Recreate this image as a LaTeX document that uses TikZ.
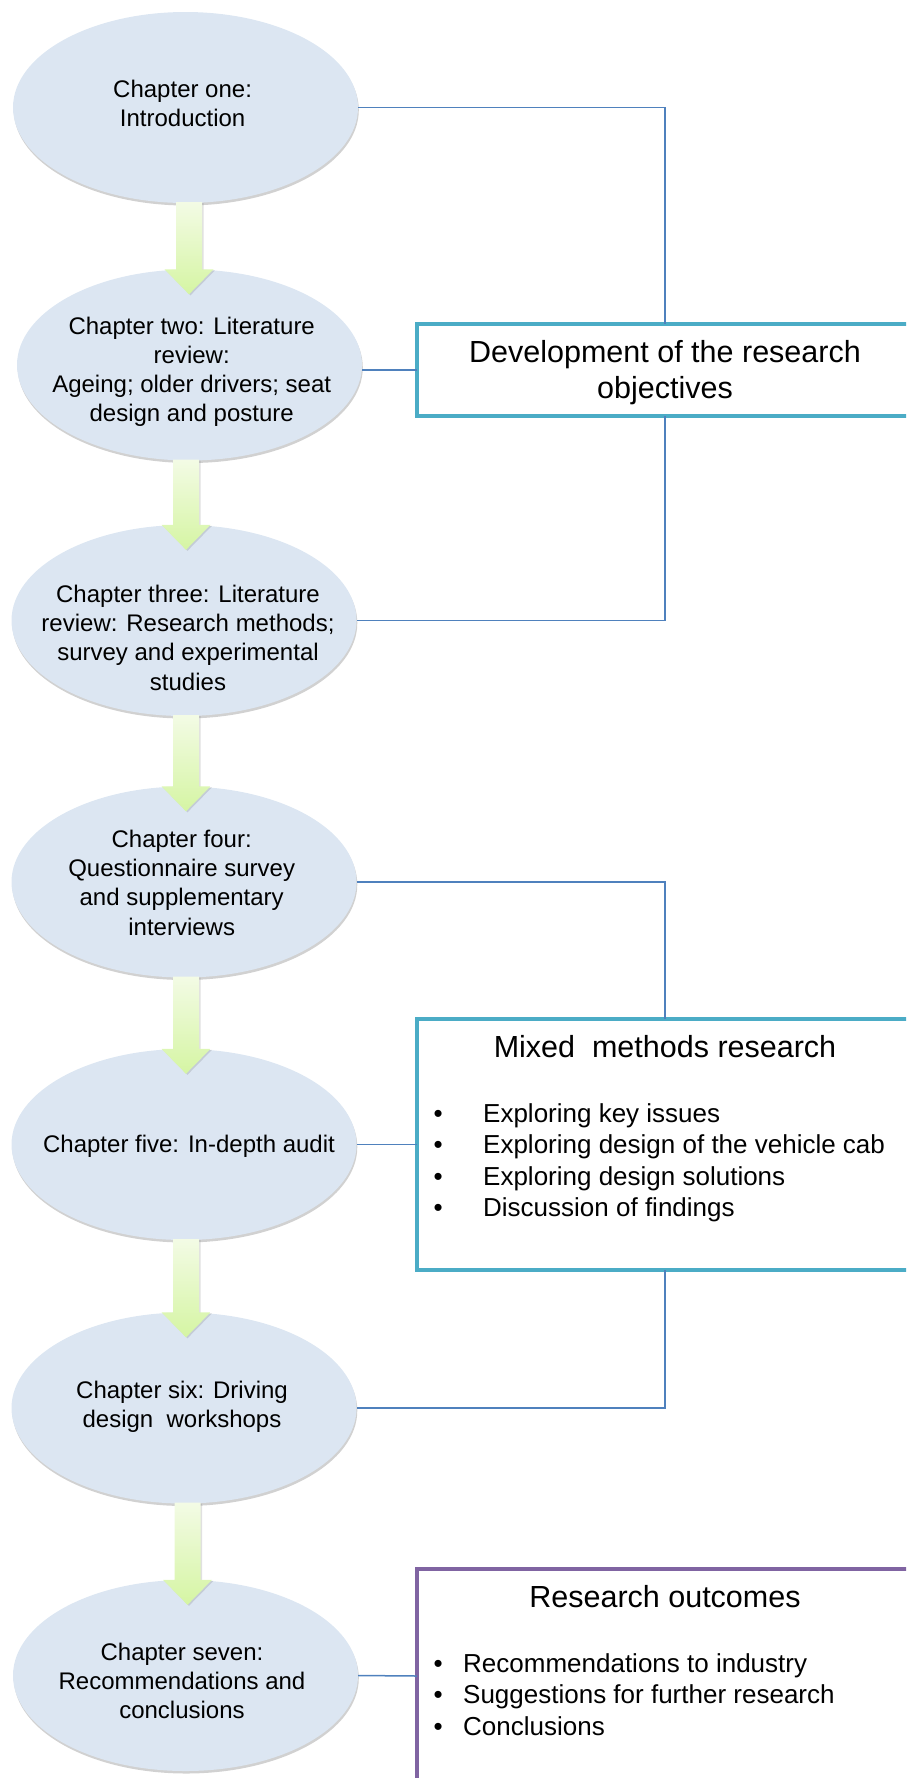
\documentclass[tikz,border=0pt]{standalone}
\usepackage{fontspec}
\setmainfont{Liberation Sans}
\usetikzlibrary{shapes.geometric,shadows,calc}

\definecolor{chapfill}{RGB}{220,230,242}
\definecolor{linkblue}{RGB}{79,129,189}
\definecolor{aquaedge}{RGB}{75,172,198}
\definecolor{outcomeedge}{RGB}{128,100,162}
\definecolor{arrowtop}{RGB}{243,251,229}
\definecolor{arrowbot}{RGB}{213,245,163}

\tikzset{
  chapter/.style={ellipse, fill=chapfill, minimum width=345pt, minimum height=191pt,
    inner sep=0pt, drop shadow={shadow xshift=0.8pt, shadow yshift=-2.5pt, opacity=0.3, fill=black!60}},
  chaptext/.style={anchor=north, align=center, inner sep=0pt, font=\fontsize{24pt}{29.3pt}\selectfont},
  panel/.style={draw, line width=3.5pt, fill=white, minimum width=496pt, inner sep=0pt, outer sep=0pt},
  titletext/.style={anchor=north, align=center, inner sep=0pt, font=\fontsize{30.5pt}{36pt}\selectfont},
  bullettext/.style={anchor=north west, align=left, inner sep=0pt, font=\fontsize{26pt}{31.5pt}\selectfont},
  linkline/.style={draw=linkblue, line width=1.5pt},
  flowarr/.style={top color=arrowtop, bottom color=arrowbot,
    drop shadow={shadow xshift=1.5pt, shadow yshift=-1pt, opacity=0.2, fill=black!60}}
}

% bullet followed by a fixed indent
\newcommand\bul[1]{\makebox[#1][l]{\textbullet}}

% block arrow from the bottom of one chapter to the top of the next
\newcommand\flowarrow[3]{%
  \path[flowarr] let \p1=(#1.south), \p2=(#2.north) in
    (\x2+#3-13pt,\y1+1pt) -- (\x2+#3+13pt,\y1+1pt) -- (\x2+#3+13pt,\y2)
    -- (\x2+#3+24.5pt,\y2) -- (\x2+#3,\y2-25pt) -- (\x2+#3-24.5pt,\y2)
    -- (\x2+#3-13pt,\y2) -- cycle;}

\begin{document}
\begin{tikzpicture}[x=1pt, y=-1pt]
  \useasboundingbox (0,0) rectangle (906,1778);
  \clip (0,0) rectangle (906,1778);

  % chapters
  \node[chapter] (e1) at (185.5,107.5) {};
  \node[chapter] (e2) at (189.5,365) {};
  \node[chapter] (e3) at (184,620.5) {};
  \node[chapter] (e4) at (184,882) {};
  \node[chapter] (e5) at (184,1144.5) {};
  \node[chapter] (e6) at (184,1408) {};
  \node[chapter] (e7) at (185.5,1675.5) {};

  % arrows between chapters
  \flowarrow{e1}{e2}{-0.5pt}
  \flowarrow{e2}{e3}{2pt}
  \flowarrow{e3}{e4}{2pt}
  \flowarrow{e4}{e5}{2pt}
  \flowarrow{e5}{e6}{2pt}
  \flowarrow{e6}{e7}{2pt}

  % chapter titles
  \node[chaptext] (t1) at (182.6,79.5) {Chapter one:\\Introduction};
  \node[chaptext] (t2) at (191.7,316.5) {Chapter two: Literature\\review:\\Ageing; older drivers; seat\\design and posture};
  \node[chaptext] (t3) at (188,584.5) {Chapter three: Literature\\review: Research methods;\\survey and experimental\\studies};
  \node[chaptext] (t4) at (181.7,829.5) {Chapter four:\\Questionnaire survey\\and supplementary\\interviews};
  \node[chaptext] (t5) at (189,1134.5) {Chapter five: In-depth audit};
  \node[chaptext] (t6) at (182,1380.5) {Chapter six: Driving\\design\ \ workshops};
  \node[chaptext] (t7) at (182,1642.5) {Chapter seven:\\Recommendations and\\conclusions};

  % summary panels
  \node[panel, draw=aquaedge, minimum height=92pt] (box1) at (665,370) {};
  \node[panel, draw=aquaedge, minimum height=251pt] (box2) at (665,1144.5) {};
  \node[panel, draw=outcomeedge, minimum height=214pt] (box3) at (665,1676) {};

  % connectors
  \draw[linkline] (e1.east) -| (box1.north);
  \draw[linkline] (e2.east |- box1.west) -- (box1.west);
  \draw[linkline] (box1.south) |- (e3.east);
  \draw[linkline] (e4.east) -| (box2.north);
  \draw[linkline] (e5.east) -- (box2.west);
  \draw[linkline] (box2.south) |- (e6.east);
  \draw[linkline] (e7.east) -- (box3.west);

  % panel texts
  \node[titletext] (h1) at (665,339.8) {Development of the research\\objectives};
  \node[titletext] (h2) at (665,1034.8) {Mixed\ \ methods research};
  \node[bullettext] (l2) at (433.5,1103.4) {%
    \bul{49.5pt}Exploring key issues\\
    \bul{49.5pt}Exploring design of the vehicle cab\\
    \bul{49.5pt}Exploring design solutions\\
    \bul{49.5pt}Discussion of findings};
  \node[titletext] (h3) at (665,1584.8) {Research outcomes};
  \node[bullettext] (l3) at (433.5,1653.4) {%
    \bul{29.5pt}Recommendations to industry\\
    \bul{29.5pt}Suggestions for further research\\
    \bul{29.5pt}Conclusions};
\end{tikzpicture}
\end{document}
